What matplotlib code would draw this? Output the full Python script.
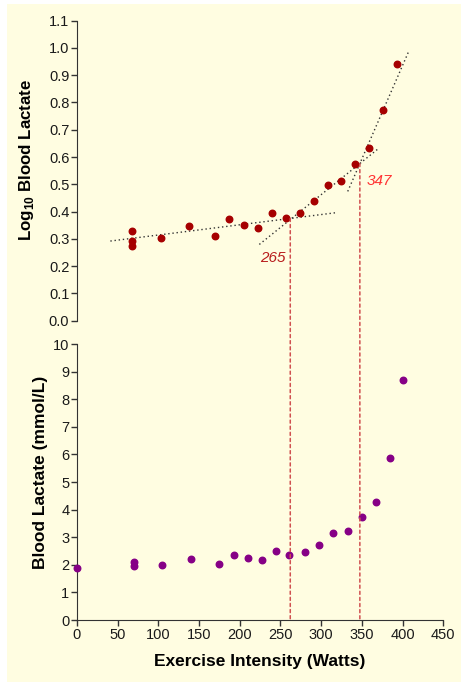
import numpy as np
import matplotlib
matplotlib.use('Agg')
import matplotlib.pyplot as plt
from matplotlib.patches import Rectangle, ConnectionPatch

plt.rcParams['font.family'] = ['Liberation Sans', 'DejaVu Sans']
plt.rcParams['mathtext.fontset'] = 'custom'
plt.rcParams['mathtext.rm'] = 'Liberation Sans:bold'

# --- data ---
log_watts = [68, 68, 68, 103, 137, 170, 187, 205, 222, 239, 256.5, 274, 291, 308.5, 324, 341.5, 359, 376.5, 393]
log_lactate = [0.328, 0.293, 0.275, 0.303, 0.347, 0.309, 0.374, 0.350, 0.340, 0.396,
               0.375, 0.395, 0.439, 0.497, 0.511, 0.576, 0.633, 0.771, 0.942]

watts = [0, 70, 70, 105, 140, 175, 192.5, 210, 227.5, 245, 260, 280, 297.5, 315, 332.5, 350, 367.5, 385, 400]
lactate = [1.88, 2.11, 1.94, 2.00, 2.22, 2.03, 2.37, 2.23, 2.19, 2.49,
           2.37, 2.48, 2.73, 3.14, 3.24, 3.74, 4.28, 5.88, 8.71]

# trend lines on log plot: x start, x end, slope, intercept
fit_start = [41, 224, 332.6]
fit_end = [318, 369.5, 407]
fit_slope = [0.000375, 0.002402, 0.006855]
fit_icpt = [0.2766, -0.2585, -1.806]

# thresholds: x position, which trend line gives the start height, label
thr_x = [262, 347.5]
thr_fit = [0, 1]
thr_label = ['265', '347']
thr_label_x = [240.6, 372]
thr_label_y = [0.229, 0.512]
thr_label_col = ['#b81c1c', '#ff3333']

bg = '#fffde1'

fig = plt.figure(figsize=(4.61, 6.82), dpi=100, facecolor='white')
fig.patches.append(Rectangle((7 / 461, 0), 1, (682 - 4) / 682, transform=fig.transFigure,
                             facecolor=bg, edgecolor='none', zorder=-10))

ax1 = fig.add_axes([0.167, 0.5298, 0.7946, 0.4399])
ax2 = fig.add_axes([0.167, 0.0909, 0.7946, 0.4047])

for ax in (ax1, ax2):
    ax.set_facecolor('none')
    ax.spines['top'].set_visible(False)
    ax.spines['right'].set_visible(False)
    ax.spines['left'].set_color('#333333')
    ax.spines['bottom'].set_color('#333333')
    ax.tick_params(direction='out', length=4, width=1, color='#333333', labelsize=10.5,
                   labelcolor='#1a1a1a', pad=1.5)
    ax.set_xlim(0, 450)

# top: log lactate
ax1.spines['bottom'].set_visible(False)
ax1.set_xticks([])
ax1.set_ylim(0, 1.1)
ax1.set_yticks(np.arange(0, 1.11, 0.1))
ax1.set_yticklabels(['%.1f' % v for v in np.arange(0, 1.11, 0.1)])
ax1.scatter(log_watts, log_lactate, s=22, color='#a60000', zorder=3, clip_on=False)
for xs, xe, m, b in zip(fit_start, fit_end, fit_slope, fit_icpt):
    xx = np.array([xs, xe])
    ax1.plot(xx, m * xx + b, color='#333333', linestyle=(0, (1, 2)), lw=1, zorder=2)
ax1.set_ylabel(r'Log$_{\mathregular{10}}$ Blood Lactate', fontsize=12.2, fontweight='bold')
ax1.yaxis.set_label_coords(-0.112, 0.536)

# bottom: blood lactate
ax2.set_ylim(0, 10)
ax2.set_yticks(range(0, 11))
ax2.set_xticks(range(0, 451, 50))
ax2.scatter(watts, lactate, s=22, color='#860086', zorder=3, clip_on=False)
ax2.set_ylabel('Blood Lactate (mmol/L)', fontsize=12.5, fontweight='bold')
ax2.yaxis.set_label_coords(-0.08, 0.534)
ax2.set_xlabel('Exercise Intensity (Watts)', fontsize=12.5, fontweight='bold')
ax2.xaxis.set_label_coords(0.5, -0.123)

# threshold lines across both panels
for x, fi, lab, lx, ly, lc in zip(thr_x, thr_fit, thr_label, thr_label_x, thr_label_y, thr_label_col):
    y0 = fit_slope[fi] * x + fit_icpt[fi]
    con = ConnectionPatch(xyA=(x, y0), coordsA=ax1.transData, xyB=(x, 0), coordsB=ax2.transData,
                          color='#d05050', linestyle=(0, (2, 2)), lw=1.1, zorder=1)
    fig.add_artist(con)
    ax1.text(lx, ly, lab, color=lc, fontsize=11, fontstyle='italic', ha='center', va='center')

fig.savefig('out.png', dpi=100)
